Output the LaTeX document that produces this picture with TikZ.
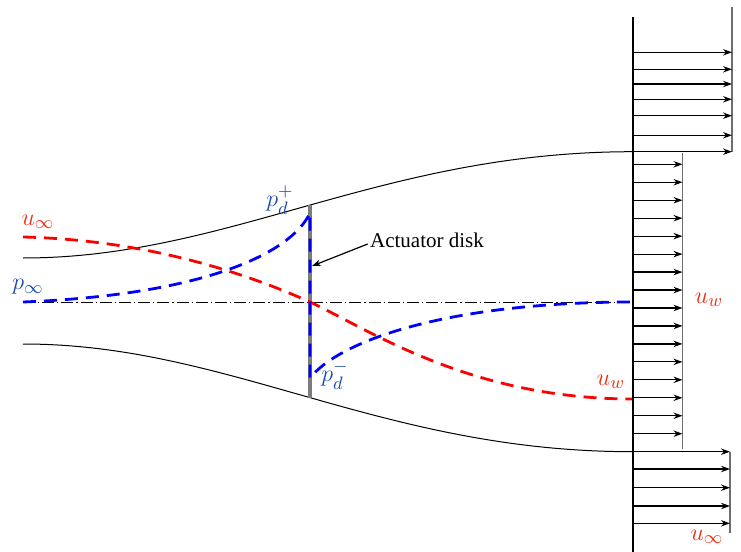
\documentclass[tikz,border=0pt]{standalone}
\usepackage{fontspec}
\setmainfont{Liberation Serif}
\usetikzlibrary{arrows.meta}
\definecolor{lblue}{RGB}{25,75,170}
\definecolor{lred}{RGB}{240,45,20}
\definecolor{linegray}{RGB}{110,110,110}
\begin{document}
\begin{tikzpicture}[x=0.5pt,y=-0.5pt,
  tube/.style={line width=0.5pt,black},
  axisline/.style={line width=0.5pt,black,dash pattern=on 6pt off 1.5pt on 0.6pt off 1.5pt},
  reddash/.style={line width=1.4pt,red,dash pattern=on 6.5pt off 4pt},
  bluedash/.style={line width=1.4pt,blue,dash pattern=on 6.5pt off 4pt},
  disk/.style={line width=2pt,linegray!90},
  vel/.style={line width=0.6pt,black,-{Stealth[length=4.5pt,width=3.2pt]}},
  endline/.style={line width=0.7pt,linegray},
  redlbl/.style={text=lred,font=\fontsize{13}{15}\selectfont,inner sep=1pt},
  bluelbl/.style={text=lblue,font=\fontsize{13}{15}\selectfont,inner sep=1pt}]
\useasboundingbox (0,0) rectangle (741,552);
% stream tube
\draw[tube] (23,258) .. controls (230,258) and (380,151.7) .. (633,151.7);
\draw[tube] (23,344) .. controls (230,344) and (380,451.7) .. (633,451.7);
% axis
\coordinate (axL) at (23,302);
\coordinate (axR) at (633,302);
\draw[axisline] (axL) -- (axR);
% disk
\coordinate (diskT) at (310,205);
\coordinate (diskB) at (310,398);
\draw[disk] (diskT) -- (diskB);
% velocity (red)
\draw[reddash] (23,237) .. controls (150,240) and (250,275) .. (310,302)
  .. controls (370,330) and (470,399) .. (633,399);
% pressure (blue)
\draw[bluedash] (23,302) .. controls (200,295) and (290,255) .. (310,213)
  -- (310,378) .. controls (340,340) and (450,302) .. (633,302);
% profile base line
\draw[line width=0.7pt] (633,17) -- (633,552);
% upper free stream profile
\draw[endline] (732,7) -- (732,151.7);
\foreach \y in {52.3,69.3,84,99.3,115.7,135.3,151.7}
  \draw[vel] (633,\y) -- (732,\y);
% wake profile
\draw[endline] (682.5,152.7) -- (682.5,449.3);
\foreach \i [evaluate=\i as \y using 164.3+17.96*\i] in {0,...,15}
  \draw[vel] (633,\y) -- (682.5,\y);
% lower free stream profile
\draw[endline] (730,451.7) -- (730,532.7);
\foreach \y in {451.7,469,487.7,506,523.3}
  \draw[vel] (633,\y) -- (730,\y);
% labels
\node[redlbl] (uinf) at (38,222) {$u_\infty$};
\node[bluelbl] (pinf) at (28,287) {$p_\infty$};
\node[bluelbl] (pdp) at (280,200) {$p_d^+$};
\node[bluelbl] (pdm) at (335,375) {$p_d^-$};
\node[redlbl] (uw1) at (611,382) {$u_w$};
\node[redlbl] (uw2) at (709,300) {$u_w$};
\node[redlbl] (uinf2) at (707,537) {$u_\infty$};
\node[font=\fontsize{10.5}{12}\selectfont,inner sep=1pt] (ad) at (427,240) {Actuator disk};
\coordinate (adtip) at (312,266);
\draw[line width=0.6pt,-{Stealth[length=4.5pt,width=3.2pt]}] ([yshift=-2pt]ad.west) -- (adtip);
\end{tikzpicture}
\end{document}
